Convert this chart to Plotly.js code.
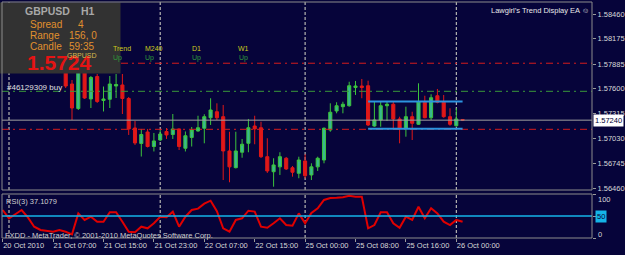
<!DOCTYPE html>
<html><head><meta charset="utf-8">
<script src="https://cdn.plot.ly/plotly-3.0.1.min.js"></script>
<style>html,body{margin:0;padding:0;background:#06043a;}#chart{width:625px;height:255px;}</style>
</head><body><div id="chart"></div>
<script>
// GBPUSD H1 candles, bar 0 = 20 Oct 23:00 ... bar 73 = 26 Oct 01:00
const openP = [1.58277,1.58369,1.58254,1.58346,1.58484,1.58369,1.58139,1.58024,1.57955,1.57863,
1.57909,1.57656,1.57374,1.57806,1.57484,1.57742,1.57466,1.57480,1.57633,1.57645,
1.57489,1.57150,1.56972,1.57104,1.56937,1.57012,1.57110,1.57075,1.57139,1.56917,
1.57041,1.57116,1.57147,1.57268,1.57337,1.57280,1.56886,1.56694,1.56871,1.56974,
1.57173,1.57153,1.56820,1.56647,1.56703,1.56802,1.56693,1.56629,1.56771,1.56610,
1.56703,1.56782,1.57127,1.57346,1.57395,1.57406,1.57616,1.57633,1.57636,1.57173,
1.57242,1.57406,1.57423,1.57254,1.57147,1.57280,1.57193,1.57446,1.57268,1.57521,
1.57446,1.57280,1.57176,1.57248];
const highP = [1.58415,1.58438,1.58392,1.58553,1.58530,1.58392,1.58185,1.58070,1.57990,1.57955,
1.57932,1.57702,1.57863,1.57840,1.57748,1.57771,1.57627,1.57748,1.57771,1.57771,
1.57507,1.57231,1.57139,1.57139,1.57093,1.57127,1.57150,1.57311,1.57144,1.57110,
1.57162,1.57291,1.57308,1.57492,1.57434,1.57415,1.57107,1.57107,1.57024,1.57254,
1.57291,1.57222,1.57032,1.56802,1.56871,1.56817,1.56713,1.56820,1.56848,1.56744,
1.56820,1.57156,1.57434,1.57446,1.57452,1.57682,1.57691,1.57714,1.57694,1.57452,
1.57452,1.57452,1.57452,1.57280,1.57395,1.57337,1.57664,1.57521,1.57538,1.57599,
1.57530,1.57377,1.57377,1.57252];
const lowP = [1.58231,1.58208,1.58220,1.58323,1.58300,1.58093,1.57978,1.57909,1.57817,1.57817,
1.57610,1.57242,1.57357,1.57484,1.57380,1.57438,1.57340,1.57380,1.57495,1.57311,
1.57070,1.56955,1.56822,1.56926,1.56880,1.57001,1.57024,1.57024,1.56897,1.56880,
1.56937,1.57107,1.56974,1.57185,1.57242,1.56552,1.56526,1.56685,1.56808,1.56871,
1.56963,1.56805,1.56633,1.56475,1.56610,1.56667,1.56590,1.56572,1.56572,1.56552,
1.56656,1.56744,1.57107,1.57319,1.57319,1.57395,1.57530,1.57492,1.57173,1.57165,
1.57165,1.57231,1.57147,1.56974,1.57050,1.57012,1.57185,1.57262,1.57242,1.57434,
1.57268,1.57176,1.57165,1.57230];
const closeP = [1.58369,1.58254,1.58346,1.58484,1.58369,1.58139,1.58024,1.57955,1.57863,1.57909,
1.57633,1.57380,1.57817,1.57495,1.57731,1.57455,1.57484,1.57656,1.57650,1.57489,
1.57139,1.56978,1.57075,1.56937,1.57001,1.57081,1.57070,1.57139,1.56937,1.57061,
1.57127,1.57153,1.57280,1.57357,1.57268,1.56886,1.56703,1.56886,1.56963,1.57153,
1.57139,1.56820,1.56656,1.56725,1.56820,1.56679,1.56641,1.56782,1.56601,1.56703,
1.56802,1.57147,1.57331,1.57406,1.57423,1.57636,1.57633,1.57616,1.57185,1.57242,
1.57406,1.57423,1.57254,1.57150,1.57280,1.57204,1.57452,1.57268,1.57498,1.57446,
1.57280,1.57193,1.57254,1.57240];
const rsi = [63.6,44.8,54,63.6,47,25.7,18.2,15.9,14.3,18.2,
14.3,8.4,56,41,48.4,37,37,58.4,58.4,37,
14.3,13,25.7,22,33.4,48.4,47,59.8,25.7,48.4,
63.6,66.7,78,84.8,61,22,14.3,41,44.8,62,
60,25.7,23.4,33.4,44.8,29.5,28,56,33.4,56.8,
67.5,86.4,91,91.6,92.5,96,94,94,22,29.5,
58.4,58.4,33.4,23.4,48.4,41,71,44.8,67.5,56,
37,29.5,41,37.1079];
const tickIdx = [0,8,16,24,32,40,48,56,64,72];
const tickText = ["20 Oct 2010","21 Oct 07:00","21 Oct 15:00","21 Oct 23:00","22 Oct 07:00",
"22 Oct 15:00","25 Oct 00:00","25 Oct 08:00","25 Oct 16:00","26 Oct 00:00"];
const dayStarts = [1,25,48,72];
const priceTicks = [1.58460,1.58175,1.57885,1.57600,1.57315,1.57030,1.56745,1.56460];
const bidPrice = 1.57240;
const redLevels = [1.57895,1.57135];
const greenLevel = 1.57572;
const blueLevels = [1.57455,1.57142];
const blueFrom = 58, blueTo = 73;
const rsiLevel = 50;
const rsiTicks = [0,50,100];

const idx = openP.map((_, i) => i);
const FONT = "Liberation Sans, Arial, sans-serif";

// layout geometry
const L = 2, R = 33, T = 2, B = 17, W = 625, H = 255;
const pw = W - L - R, ph = H - T - B;
function P(px, py) { return {x: (px - L) / pw, y: (H - B - py) / ph}; }
function A(text, px, py, size, color, extra) {
  const p = P(px, py);
  return Object.assign({xref:'paper', yref:'paper', x:p.x, y:p.y, xanchor:'left', yanchor:'middle',
    text:text, showarrow:false, borderpad:0, font:{family:FONT, size:size, color:color}}, extra || {});
}

const traces = [
  {type:'candlestick', x:idx, open:openP, high:highP, low:lowP, close:closeP,
   xaxis:'x', yaxis:'y', hoverinfo:'none', showlegend:false,
   increasing:{line:{color:'#3cc43c', width:1}, fillcolor:'#38b890'},
   decreasing:{line:{color:'#e01818', width:1}, fillcolor:'#e01818'}},
  {type:'scatter', mode:'lines', x:idx, y:rsi, xaxis:'x', yaxis:'y2', hoverinfo:'none', showlegend:false,
   line:{color:'#e00000', width:2}}
];

const shapes = [];
dayStarts.forEach(d => {
  ['y domain','y2 domain'].forEach(yr => shapes.push({type:'line', xref:'x', yref:yr, x0:d, x1:d, y0:0, y1:1,
    layer:'below', line:{color:'#d8d8c8', width:1, dash:'3px,2px'}}));
});
shapes.push({type:'line', xref:'x domain', yref:'y', x0:0, x1:1, y0:greenLevel, y1:greenLevel,
  line:{color:'#3a9a3a', width:1, dash:'7px,4px,2px,4px'}});
redLevels.forEach(v => shapes.push({type:'line', xref:'x domain', yref:'y', x0:0, x1:1, y0:v, y1:v,
  line:{color:'#d81c1c', width:1, dash:'7px,4px,2px,4px'}}));
shapes.push({type:'line', xref:'x domain', yref:'y', x0:0, x1:1, y0:bidPrice, y1:bidPrice,
  line:{color:'#a0a0a0', width:1}});
blueLevels.forEach(v => shapes.push({type:'line', xref:'x', yref:'y', x0:blueFrom, x1:blueTo, y0:v, y1:v,
  line:{color:'#2c94e0', width:2}}));
shapes.push({type:'line', xref:'x domain', yref:'y2', x0:0, x1:1, y0:rsiLevel, y1:rsiLevel,
  line:{color:'#14b4e8', width:1.5}});
// info box
const b0 = P(0, 73.5), b1 = P(120.5, 2.5);
shapes.push({type:'rect', xref:'paper', yref:'paper', x0:b0.x, x1:b1.x, y0:b0.y, y1:b1.y,
  line:{width:0}, fillcolor:'#323232'});
// panel frames
['y domain','y2 domain'].forEach(yr => shapes.push({type:'rect', xref:'x domain', yref:yr, x0:0, x1:1, y0:0, y1:1,
  line:{color:'#8c8c8c', width:1}, fillcolor:'rgba(0,0,0,0)'}));

const orange = '#e0902e';
const annotations = [
  A('<b>GBPUSD</b>', 24, 11, 10.5, '#a8a8a8'),
  A('<b>H1</b>', 80, 11, 10.5, '#a8a8a8'),
  A('Spread', 29, 24.5, 10, orange), A('4', 77, 24.5, 10, orange),
  A('Range', 29, 35.5, 10, orange), A('156, 0', 68, 35.5, 10, orange),
  A('Candle', 29, 46.5, 10, orange), A('59:35', 68, 46.5, 10, orange),
  A('<b>' + closeP[closeP.length - 1].toFixed(4) + '</b>', 26, 62, 21, '#e41414'),
  A('GBPUSD', 66, 56, 7, '#d8b850'),
  A('Trend', 112, 48, 7, '#cccc1a'), A('M240', 144, 48, 7, '#cccc1a'),
  A('D1', 191, 48, 7, '#cccc1a'), A('W1', 237, 48, 7, '#cccc1a'),
  A('Up', 112, 57.5, 7, '#2f9a3a'), A('Up', 144, 57.5, 7, '#2f9a3a'),
  A('Up', 191, 57.5, 7, '#2f9a3a'), A('Up', 238, 57.5, 7, '#2f9a3a'),
  A('#46129309 buy', 6, 87, 8, '#e0e0e0'),
  A('Lawgirl\u2019s Trend Display EA \u263A', 590, 10, 7.5, '#e8e8e8', {xanchor:'right'}),
  A('RSI(3) ' + rsi[rsi.length - 1].toFixed(4), 5, 201, 7.5, '#d0d0d0'),
  A('FXDD - MetaTrader, \u00A9 2001-2010 MetaQuotes Software Corp.', 4, 235, 7.5, '#d0d0d0'),
  A('100', 597, 199, 7.5, '#d8d8d8'),
  A('0', 597, 234, 7.5, '#d8d8d8'),
  {xref:'paper', yref:'y2', x:P(595,0).x, y:rsiLevel, xanchor:'left', yanchor:'middle', text:String(rsiLevel),
   showarrow:false, bgcolor:'#14b4e8', borderpad:1, font:{family:FONT, size:7.5, color:'#06043a'}},
  {xref:'paper', yref:'y', x:1, xshift:1, y:bidPrice, xanchor:'left', yanchor:'middle', text:bidPrice.toFixed(5),
   showarrow:false, bgcolor:'#ffffff', borderpad:1, font:{family:FONT, size:7.5, color:'#000033'}}
];

const axisCommon = {showgrid:false, zeroline:false, showline:false, fixedrange:true};
const layout = {
  width:W, height:H, margin:{l:L, r:R, t:T, b:B, pad:0},
  paper_bgcolor:'#06043a', plot_bgcolor:'rgba(0,0,0,0)',
  font:{family:FONT, size:7.5, color:'#d8d8d8'},
  showlegend:false, dragmode:false,
  xaxis:Object.assign({}, axisCommon, {domain:[0,1], anchor:'y2', range:[-0.111, 93.54],
    tickmode:'array', tickvals:tickIdx, ticktext:tickText, ticks:'outside', ticklen:3, tickcolor:'#9a9a9a',
    tickangle:0, ticklabelposition:'outside right', tickfont:{family:FONT, size:7.5, color:'#d8d8d8'},
    rangeslider:{visible:false}}),
  yaxis:Object.assign({}, axisCommon, {domain:[48/236, 1], anchor:'x', side:'right', range:[1.56437, 1.58599],
    tickmode:'array', tickvals:priceTicks, ticktext:priceTicks.map(v => v.toFixed(5)),
    ticks:'outside', ticklen:3, tickcolor:'#9a9a9a', tickfont:{family:FONT, size:7.5, color:'#d8d8d8'}}),
  yaxis2:Object.assign({}, axisCommon, {domain:[0, 44/236], anchor:'x', side:'right', range:[0,100],
    tickmode:'array', tickvals:rsiTicks, showticklabels:false, ticks:'outside', ticklen:3, tickcolor:'#9a9a9a'}),
  shapes:shapes, annotations:annotations
};
Plotly.newPlot('chart', traces, layout, {staticPlot:true, displayModeBar:false});
</script></body></html>
